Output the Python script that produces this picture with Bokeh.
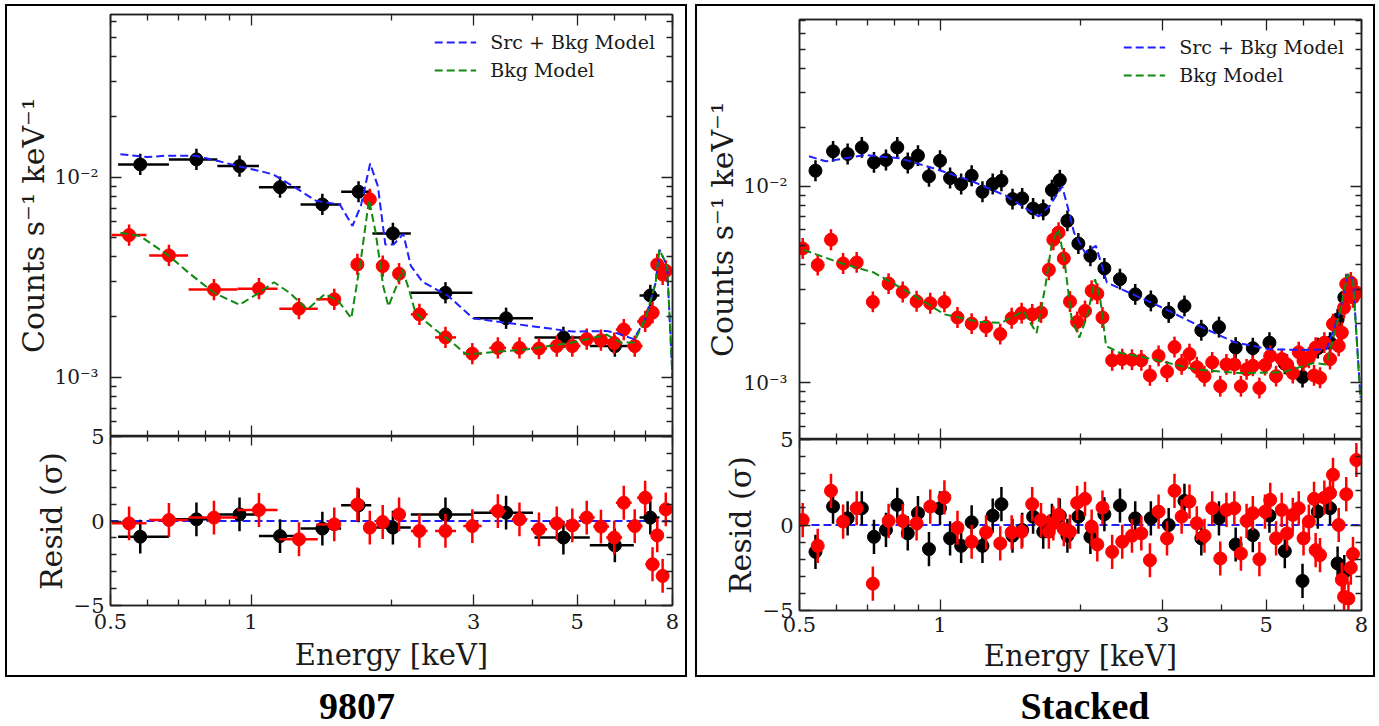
import numpy as np
from bokeh.plotting import figure
from bokeh.models import (FixedTicker, CustomJSTickFormatter, LogAxis, LinearAxis,
                          Legend, LegendItem, Div)
from bokeh.layouts import row, column
from bokeh.embed import file_html
from bokeh.resources import INLINE

# ---------------- data: ObsID 9807 ----------------
L_src_E = [0.579, 0.764, 0.945, 1.154, 1.422, 1.70, 2.014, 2.61, 3.52, 4.67, 6.02, 7.17]
L_src_Elo = [0.519, 0.667, 0.847, 1.04, 1.277, 1.56, 1.82, 2.2, 3.0, 4.05, 5.32, 6.8]
L_src_Ehi = [0.667, 0.847, 1.04, 1.277, 1.56, 1.81, 2.2, 2.98, 4.02, 5.32, 6.61, 7.5]
L_src_rate = [0.01157, 0.01226, 0.01135, 0.0089, 0.0073, 0.00845, 0.00523, 0.00264,
              0.00197, 0.00158, 0.00143, 0.00256]
L_src_res = [-0.93, 0.1, 0.39, -0.89, -0.45, 0.93, -0.39, 0.39, 0.49, -0.98, -1.44, 0.2]

L_bkg_E = [0.548, 0.667, 0.833, 1.04, 1.267, 1.508, 1.69, 1.797, 1.915, 2.076, 2.295, 2.61,
           2.98, 3.38, 3.76, 4.14, 4.52, 4.88, 5.24, 5.62, 6.0, 6.29, 6.64, 6.99, 7.25, 7.42,
           7.62, 7.74]
L_bkg_Elo = [0.503, 0.605, 0.735, 0.935, 1.15, 1.38, 1.65, 1.76, 1.87, 2.02, 2.2, 2.48, 2.85,
             3.24, 3.62, 3.98, 4.35, 4.70, 5.04, 5.41, 5.77, 6.05, 6.39, 6.72, 7.0, 7.2, 7.4, 7.6]
L_bkg_Ehi = [0.597, 0.733, 0.935, 1.14, 1.39, 1.55, 1.73, 1.84, 1.96, 2.13, 2.39, 2.75, 3.12,
             3.52, 3.91, 4.31, 4.70, 5.08, 5.45, 5.85, 6.24, 6.54, 6.9, 7.25, 7.5, 7.6, 7.8, 7.9]
L_bkg_rate = [0.00513, 0.00406, 0.00274, 0.00277, 0.0022, 0.00245, 0.00366, 0.00774, 0.00359,
              0.00329, 0.00206, 0.00158, 0.00131, 0.0014, 0.0014, 0.00139, 0.00143, 0.00143,
              0.00155, 0.00153, 0.00148, 0.00173, 0.00143, 0.0019, 0.0021, 0.00366, 0.00326,
              0.0034]
L_bkg_res = [-0.14, 0.06, 0.2, 0.65, -1.08, -0.2, 0.98, -0.39, -0.06, 0.39, -0.59, -0.59, -0.3,
             0.59, 0.1, -0.49, -0.14, -0.26, 0.2, -0.33, -0.98, 1.08, -0.3, 1.38, -2.56, -0.85,
             -3.25, 0.69]

L_mod_E = [0.525, 0.60, 0.66, 0.76, 0.855, 0.945, 1.05, 1.117, 1.25, 1.38, 1.55, 1.65, 1.72,
           1.80, 1.87, 1.94, 2.02, 2.12, 2.20, 2.33, 2.65, 2.99, 3.52, 4.88, 5.78, 6.07, 6.61,
           6.99, 7.36, 7.50, 7.79, 8.0]
L_mod_tot = [0.0130, 0.0126, 0.0128, 0.0128, 0.0120, 0.0113, 0.0107, 0.0103, 0.0088, 0.0076,
             0.0073, 0.0057, 0.0072, 0.0117, 0.0090, 0.0046, 0.0046, 0.0052, 0.0036, 0.0030,
             0.00254, 0.00197, 0.00187, 0.00169, 0.0017, 0.00166, 0.00155, 0.00194, 0.00296,
             0.00434, 0.0036, 0.0010]
L_bmod_E = [0.525, 0.579, 0.667, 0.735, 0.833, 0.945, 1.04, 1.12, 1.21, 1.32, 1.44, 1.54, 1.64,
            1.72, 1.79, 1.85, 1.92, 1.97, 2.05, 2.11, 2.18, 2.25, 2.48, 2.70, 2.89, 3.15, 3.92,
            4.88, 5.78, 6.2, 6.61, 6.99, 7.36, 7.50, 7.79, 8.0]
L_bmod = [0.00527, 0.00507, 0.00404, 0.00333, 0.00264, 0.0023, 0.00264, 0.00298, 0.00264,
          0.00218, 0.0026, 0.0024, 0.00197, 0.00389, 0.0077, 0.00527, 0.00285, 0.00226, 0.00285,
          0.00345, 0.00275, 0.0021, 0.00173, 0.00149, 0.0013, 0.00132, 0.00138, 0.00149,
          0.00163, 0.00149, 0.00149, 0.00194, 0.00296, 0.00434, 0.0036, 0.001]

# ---------------- data: Stacked ----------------
S_src_E = [0.541, 0.590, 0.634, 0.680, 0.722, 0.766, 0.810, 0.853, 0.897, 0.947, 1.0, 1.051,
           1.11, 1.169, 1.233, 1.297, 1.354, 1.43, 1.50, 1.583, 1.664, 1.737, 1.806, 1.875,
           1.979, 2.10, 2.25, 2.43, 2.62, 2.83, 3.09, 3.34, 3.63, 3.96, 4.30, 4.68, 5.08, 5.48,
           5.98, 6.45, 6.85, 7.11, 7.35]
S_src_rate = [0.01202, 0.01509, 0.01462, 0.0158, 0.01326, 0.01363, 0.0158, 0.01316, 0.01434,
              0.01125, 0.01352, 0.01103, 0.01028, 0.01133, 0.00939, 0.01028, 0.01069, 0.00862,
              0.00869, 0.00772, 0.0076, 0.00958, 0.01077, 0.00668, 0.00512, 0.00443, 0.00382,
              0.00337, 0.00282, 0.00261, 0.00228, 0.00246, 0.00185, 0.00192, 0.00151, 0.0015,
              0.0016, 0.00125, 0.00107, 0.0015, 0.0016, 0.0021, 0.00272]
S_src_res = [-1.57, 1.08, 0.39, 0.98, -0.69, -0.29, 1.18, -0.49, 0.69, -1.41, 0.98, -0.78,
             -1.22, 0.16, -1.22, 0.55, 1.22, -0.63, -0.29, 0.49, -0.39, 0.24, 0.55, -0.63, 0.49,
             -0.69, 0.63, 1.14, 0.39, 0.39, 0.0, 1.41, -0.78, 0.39, -1.14, -0.59, 0.55, -1.53,
             -3.27, 0.78, 0.98, -2.25, -2.75]

S_bkg_E = [0.508, 0.547, 0.584, 0.620, 0.663, 0.718, 0.776, 0.832, 0.891, 0.953, 1.022, 1.09,
           1.169, 1.255, 1.346, 1.424, 1.496, 1.576, 1.646, 1.711, 1.749, 1.795, 1.842, 1.899,
           1.967, 2.045, 2.113, 2.173, 2.229, 2.338, 2.457, 2.578, 2.70, 2.817, 2.94, 3.065,
           3.18, 3.294, 3.424, 3.55, 3.687, 3.83, 3.986, 4.108, 4.272, 4.413, 4.538, 4.68,
           4.834, 4.97, 5.10, 5.248, 5.397, 5.54, 5.70, 5.87, 6.01, 6.17, 6.33, 6.52, 6.38,
           6.66, 6.85, 6.95, 7.15, 7.26, 7.34, 7.42, 7.50, 7.67, 7.80, 7.59]
S_bkg_rate = [0.00483, 0.00398, 0.00535, 0.00405, 0.0041, 0.00258, 0.0032, 0.0029, 0.0026,
              0.00254, 0.00258, 0.00215, 0.002, 0.00193, 0.00177, 0.00213, 0.00226, 0.00223,
              0.00228, 0.00376, 0.00535, 0.00582, 0.0043, 0.00259, 0.00204, 0.00232, 0.00294,
              0.00284, 0.00215, 0.0013, 0.00132, 0.00131, 0.0013, 0.00109, 0.00137, 0.00114,
              0.00152, 0.00124, 0.0014, 0.0012, 0.00108, 0.00127, 0.00096, 0.00124, 0.00124,
              0.00096, 0.00117, 0.00122, 0.00094, 0.00123, 0.00137, 0.00108, 0.00132, 0.00124,
              0.00112, 0.00143, 0.00129, 0.00134, 0.00109, 0.00106, 0.00151, 0.0016, 0.00132,
              0.00199, 0.00154, 0.0018, 0.00241, 0.00318, 0.00282, 0.00272, 0.00288, 0.00324]
S_bkg_res = [0.29, -1.22, 2.0, 0.2, 0.98, -3.43, 0.24, 0.24, 0.1, 1.08, 1.61, -0.16, -0.98,
             -0.43, -1.08, -0.43, -0.39, 1.22, 0.29, -0.39, 0.1, 0.59, -0.24, -0.39, 1.29, 1.53,
             -0.1, -1.14, 1.02, -1.57, -0.98, -0.63, -0.49, -2.06, 0.78, -0.78, 2.0, 0.49, 1.37,
             0.1, -0.63, 0.98, -1.96, 0.88, 0.98, -1.67, 0.24, 0.69, -2.0, 0.78, 1.47, -0.78,
             0.88, -0.49, 0.59, 0.98, -0.78, 0.2, 1.53, -1.76, -1.47, 1.6, 1.86, 2.94, 0.0,
             -3.2, -4.2, 1.8, -4.3, -1.7, 3.8, -2.5]

S_mod_E = [0.524, 0.569, 0.614, 0.692, 0.822, 0.979, 1.164, 1.384, 1.627, 1.719, 1.827, 1.883,
           1.937, 2.045, 2.158, 2.278, 2.54, 3.02, 3.59, 4.27, 5.08, 6.04, 6.73, 7.19, 7.47,
           7.67, 7.96]
S_mod_tot = [0.01423, 0.01342, 0.01378, 0.01445, 0.01389, 0.01226, 0.01069, 0.00896, 0.00703,
             0.00797, 0.0100, 0.00766, 0.00582, 0.0046, 0.00498, 0.00324, 0.00288, 0.00239,
             0.00195, 0.00161, 0.00148, 0.00147, 0.00148, 0.00228, 0.00357, 0.00337, 0.00084]
S_bmod_E = [0.510, 0.607, 0.722, 0.859, 1.022, 1.215, 1.354, 1.509, 1.61, 1.682, 1.737, 1.795,
            1.854, 1.915, 1.989, 2.067, 2.149, 2.205, 2.269, 2.43, 2.89, 3.51, 4.37, 5.42, 6.31,
            6.73, 7.19, 7.47, 7.67, 7.96]
S_bmod = [0.00475, 0.0041, 0.00364, 0.00288, 0.00223, 0.00204, 0.00202, 0.00232, 0.00179,
          0.00311, 0.00518, 0.00606, 0.00394, 0.0021, 0.0017, 0.00219, 0.00337, 0.00266,
          0.00154, 0.00142, 0.00131, 0.00117, 0.00112, 0.00113, 0.00126, 0.00124, 0.00228,
          0.00357, 0.00337, 0.00082]

# ticks
X_TICKS = [0.5, 1, 3, 5, 8]
X_MINOR = [0.6, 0.7, 0.8, 0.9, 2, 4, 6, 7]
Y_TICKS = [1e-3, 1e-2]
Y_MINOR = [6e-4, 7e-4, 8e-4, 9e-4] + [k * 1e-3 for k in range(2, 10)] + [k * 1e-2 for k in range(2, 10)]
R_TICKS = [-5, 0, 5]
R_MINOR = [-4, -3, -2, -1, 1, 2, 3, 4]

FONT = "DejaVu Serif"
TXT = "#1a1a1a"
AX = "#222222"
YERR_FACTOR = 1.13
RERR = 1.0


def style_axis(ax, labels=False, label=None, tick_size="21px", lab_size="30px",
               lab_standoff=6, axlab_standoff=6, tin=11, tout=0, mtin=6, mtout=0):
    ax.major_tick_in = tin
    ax.major_tick_out = tout
    ax.minor_tick_in = mtin
    ax.minor_tick_out = mtout
    ax.major_tick_line_color = AX
    ax.minor_tick_line_color = AX
    ax.major_tick_line_width = 1.3
    ax.minor_tick_line_width = 1.3
    ax.axis_line_color = AX
    ax.axis_line_width = 1.5
    if labels:
        ax.major_label_text_font = FONT
        ax.major_label_text_font_size = tick_size
        ax.major_label_text_color = TXT
        ax.major_label_standoff = lab_standoff
        ax.axis_label = label
        ax.axis_label_text_font = FONT
        ax.axis_label_text_font_size = lab_size
        ax.axis_label_text_font_style = "normal"
        ax.axis_label_text_color = TXT
        ax.axis_label_standoff = axlab_standoff
    else:
        ax.major_label_text_font_size = "1px"
        ax.major_label_text_alpha = 0
        ax.major_label_standoff = 0


def xticker():
    return FixedTicker(ticks=X_TICKS, minor_ticks=X_MINOR)


def yticker():
    return FixedTicker(ticks=Y_TICKS, minor_ticks=Y_MINOR)


def rticker():
    return FixedTicker(ticks=R_TICKS, minor_ticks=R_MINOR)


def points(p, x, y, color, ylo, yhi, xlo=None, xhi=None):
    if xlo is not None:
        p.segment(x0=xlo, y0=y, x1=xhi, y1=y, line_color=color, line_width=2.5)
    p.segment(x0=x, y0=ylo, x1=x, y1=yhi, line_color=color, line_width=2.5)
    p.scatter(x=x, y=y, size=13, fill_color=color, line_color=color)


OVER = 18


def panel(cfg):
    fw = 562
    main = figure(x_axis_type="log", y_axis_type="log", x_range=(0.5, 8), y_range=cfg["yr"],
                  frame_width=fw, frame_height=cfg["fh_main"],
                  min_border_left=cfg["mbl"], min_border_right=cfg["mbr"],
                  min_border_top=cfg["mbt"], min_border_bottom=0,
                  x_axis_location=None, y_axis_location=None,
                  toolbar_location=None, output_backend="svg")
    main.outline_line_color = AX
    main.outline_line_width = 1.5
    main.background_fill_color = "white"
    main.border_fill_color = "white"
    main.grid.visible = False

    ax = LogAxis(ticker=yticker(),
                 formatter=CustomJSTickFormatter(code="return tick < 0.005 ? '10\u207b\u00b3' : '10\u207b\u00b2';"))
    style_axis(ax, True, "Counts s\u207b\u00b9 keV\u207b\u00b9", tick_size="20px",
               lab_standoff=12, axlab_standoff=cfg["ystand"])
    main.add_layout(ax, "left")
    ax = LogAxis(ticker=yticker())
    style_axis(ax)
    main.add_layout(ax, "right")
    ax = LogAxis(ticker=xticker())
    style_axis(ax)
    main.add_layout(ax, "above")

    sE, sR = np.array(cfg["src_E"]), np.array(cfg["src_rate"])
    bE, bR = np.array(cfg["bkg_E"]), np.array(cfg["bkg_rate"])
    points(main, sE, sR, "black", sR / YERR_FACTOR, sR * YERR_FACTOR,
           cfg.get("src_Elo"), cfg.get("src_Ehi"))
    points(main, bE, bR, "red", bR / YERR_FACTOR, bR * YERR_FACTOR,
           cfg.get("bkg_Elo"), cfg.get("bkg_Ehi"))
    l1 = main.line(cfg["mod_E"], cfg["mod_tot"], line_color="#1f1fff", line_width=2,
                   line_dash="8 4")
    l2 = main.line(cfg["bmod_E"], cfg["bmod"], line_color="#108a10", line_width=2,
                   line_dash="8 4")
    leg = Legend(items=[LegendItem(label="Src + Bkg Model", renderers=[l1]),
                        LegendItem(label="Bkg Model", renderers=[l2])],
                 location="top_right", margin=10, padding=7, spacing=6,
                 glyph_width=42, glyph_height=20, label_height=20, label_standoff=14,
                 label_text_font=FONT, label_text_font_size="19px",
                 label_text_color=TXT, border_line_alpha=0, background_fill_alpha=0)
    main.add_layout(leg)

    # residual panel (its transparent top border overlaps the bottom of the main panel)
    res = figure(x_axis_type="log", x_range=main.x_range, y_range=(-5, 5),
                 frame_width=fw, frame_height=cfg["fh_res"],
                 min_border_left=cfg["mbl"], min_border_right=cfg["mbr"],
                 min_border_top=OVER, min_border_bottom=cfg["mbb"],
                 x_axis_location=None, y_axis_location=None,
                 toolbar_location=None, output_backend="svg",
                 styles={"margin-top": "-%dpx" % OVER})
    res.outline_line_color = AX
    res.outline_line_width = 1.5
    res.border_fill_alpha = 0
    res.background_fill_color = "white"
    res.grid.visible = False

    ax = LinearAxis(ticker=rticker(),
                    formatter=CustomJSTickFormatter(code="return tick < 0 ? '\u2212' + (-tick) : String(tick);"))
    style_axis(ax, True, "Resid (\u03c3)", lab_standoff=6, axlab_standoff=cfg["rstand"])
    res.add_layout(ax, "left")
    ax = LinearAxis(ticker=rticker())
    style_axis(ax)
    res.add_layout(ax, "right")
    ax = LogAxis(ticker=xticker(), formatter=CustomJSTickFormatter(code="return String(tick);"))
    style_axis(ax, True, "Energy [keV]", lab_size="29px", lab_standoff=cfg["xls"],
               axlab_standoff=cfg["xas"])
    res.add_layout(ax, "below")
    ax = LogAxis(ticker=xticker())
    style_axis(ax, tin=9, tout=11, mtin=5, mtout=6)
    res.add_layout(ax, "above")

    res.line([0.5, 8], [0, 0], line_color="#1f1fff", line_width=2, line_dash="8 4")
    sres, bres = np.array(cfg["src_res"]), np.array(cfg["bkg_res"])
    points(res, sE, sres, "black", sres - RERR, sres + RERR, cfg.get("src_Elo"), cfg.get("src_Ehi"))
    points(res, bE, bres, "red", bres - RERR, bres + RERR, cfg.get("bkg_Elo"), cfg.get("bkg_Ehi"))

    box = column(main, res, styles={"border": "2px solid black"})
    html = ('<div style="width:%dpx;box-sizing:border-box;padding-left:%dpx;padding-top:10px;'
            'text-align:center;font-family:\'Liberation Serif\';font-weight:bold;'
            'font-size:38px;line-height:38px;color:black;white-space:nowrap;">%s</div>'
            % (cfg["boxw"], cfg["tpad"], cfg["title"]))
    title = Div(text=html, width=cfg["boxw"], height=44, margin=0,
                styles={"overflow": "visible"})
    return column(box, title)


left = panel(dict(yr=(5.05e-4, 0.065), fh_main=422, fh_res=169, mbl=103, mbr=13, mbt=8,
                  mbb=70, rstand=2, ystand=0, xls=8, xas=6, boxw=682, tpad=22, title="9807",
                  src_E=L_src_E, src_Elo=L_src_Elo, src_Ehi=L_src_Ehi, src_rate=L_src_rate,
                  src_res=L_src_res, bkg_E=L_bkg_E, bkg_Elo=L_bkg_Elo, bkg_Ehi=L_bkg_Ehi,
                  bkg_rate=L_bkg_rate, bkg_res=L_bkg_res, mod_E=L_mod_E, mod_tot=L_mod_tot,
                  bmod_E=L_bmod_E, bmod=L_bmod))
right = panel(dict(yr=(5.14e-4, 0.0708), fh_main=420, fh_res=171, mbl=102, mbr=12, mbt=13,
                   mbb=65, rstand=2, ystand=0, xls=6, xas=4, boxw=680, tpad=100,
                   title="Stacked",
                   src_E=S_src_E, src_rate=S_src_rate, src_res=S_src_res,
                   bkg_E=S_bkg_E, bkg_rate=S_bkg_rate, bkg_res=S_bkg_res,
                   mod_E=S_mod_E, mod_tot=S_mod_tot, bmod_E=S_bmod_E, bmod=S_bmod))

root = row(left, right, spacing=8, styles={"margin-top": "4px", "margin-left": "5px"})
open("out.html", "w").write(file_html(root, INLINE))
